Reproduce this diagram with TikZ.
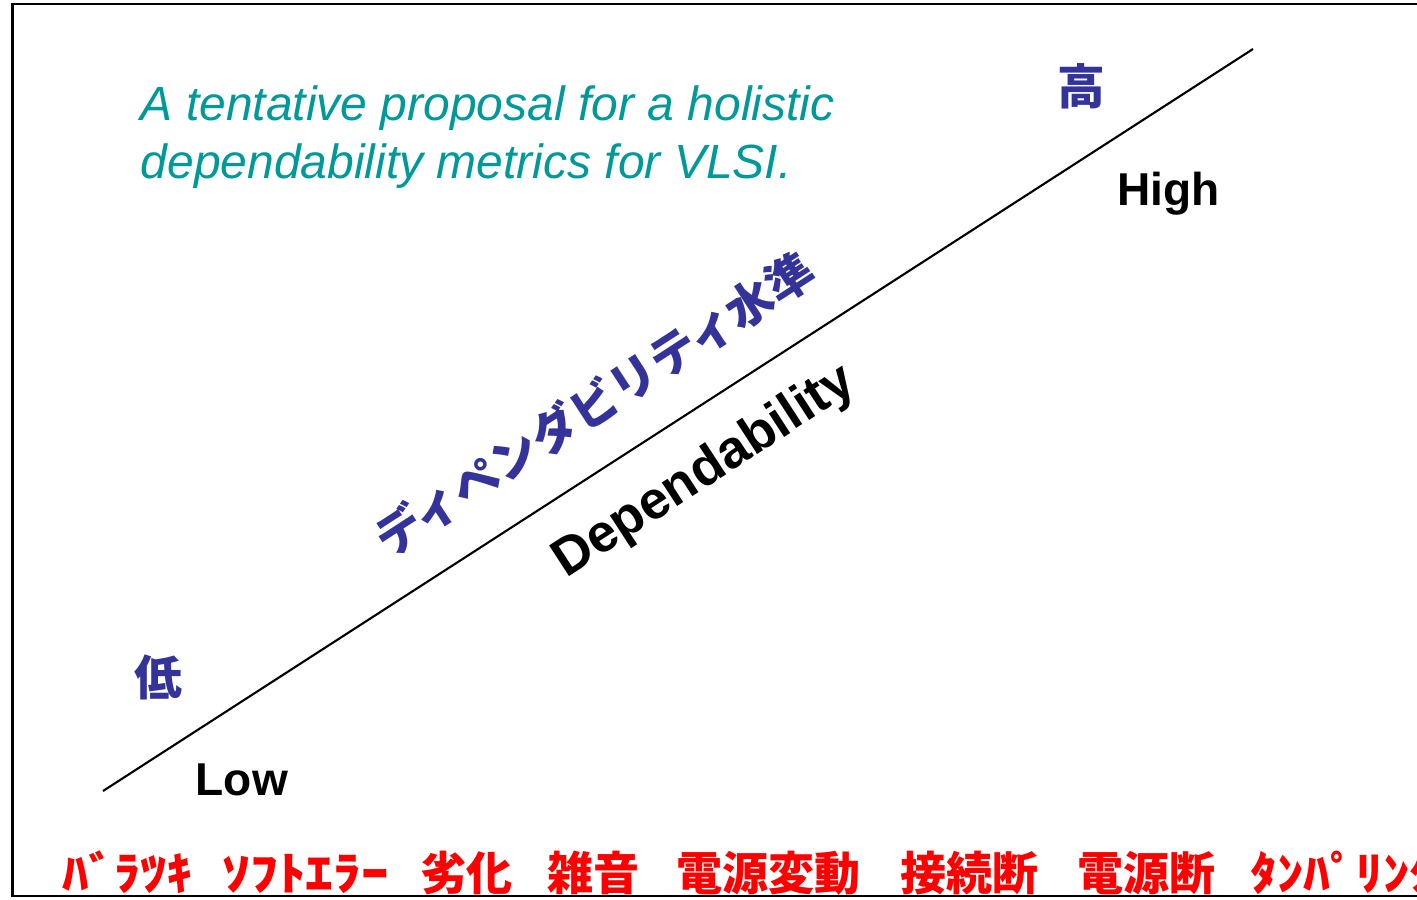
\documentclass[tikz,border=0pt]{standalone}
\usepackage{fontspec}
\setmainfont{Liberation Sans}
\newfontfamily\jp{Noto Sans CJK JP}
\usepackage{tikz}
\usetikzlibrary{positioning}
\definecolor{dtteal}{RGB}{0,153,153}
\definecolor{dtblue}{RGB}{51,51,153}
\definecolor{dtred}{RGB}{255,0,0}

\tikzset{
  title/.style={dtteal, font=\fontsize{13.65}{16.4}\selectfont\itshape, anchor=base west, inner sep=0pt},
  endlabel/.style={font=\fontsize{13.1}{15}\selectfont\bfseries, anchor=base west, inner sep=0pt},
  kanji/.style={dtblue, font=\fontsize{13.6}{15}\selectfont\jp\bfseries, inner sep=0pt},
  factor/.style={dtred, font=\fontsize{13.1}{15}\selectfont\jp\bfseries, anchor=base west, inner sep=0pt}
}

\begin{document}
\begin{tikzpicture}[x=0.01cm, y=-0.01cm]
\clip (0,0) rectangle (1417,899);
% Frame
\draw[line width=0.7pt] (12.5,4) rectangle (1440,896);
% Title
\node[title] (title1) at (140,120) {A tentative proposal for a holistic};
\node[title] (title2) at (140,178) {dependability metrics for VLSI.};
% Dependability axis
\coordinate (lowend) at (103,791);
\coordinate (highend) at (1253,49);
\draw[line width=0.6pt] (lowend) -- (highend);
\node[kanji] (highjp) at (1081,86) {高};
\node[kanji] (lowjp) at (158,677) {低};
\node[endlabel] (high) at (1117,205) {High};
\node[endlabel] (low) at (195,795) {Low};
\node[dtblue, font=\fontsize{13.4}{15}\selectfont\jp\bfseries, rotate=33, inner sep=0pt]
  (depjp) at (594,404) {ディペンダビリティ水準};
\node[font=\fontsize{15.1}{16}\selectfont\bfseries, rotate=33, anchor=base, inner sep=0pt]
  (dep) at (712,484) {Dependability};
% Fault factors
\foreach \x/\w/\s [count=\i] in {62/ﾊﾞﾗﾂｷ/1.13, 222/ｿﾌﾄｴﾗｰ/1.2, 420/劣化/1, 547/雑音/1,
    676/電源変動/1, 900/接続断/1, 1077/電源断/1, 1250/ﾀﾝﾊﾟﾘﾝｸﾞ/1.15} {
  \node[factor, xscale=\s] (f\i) at (\x,890) {\w};
}
\end{tikzpicture}
\end{document}
